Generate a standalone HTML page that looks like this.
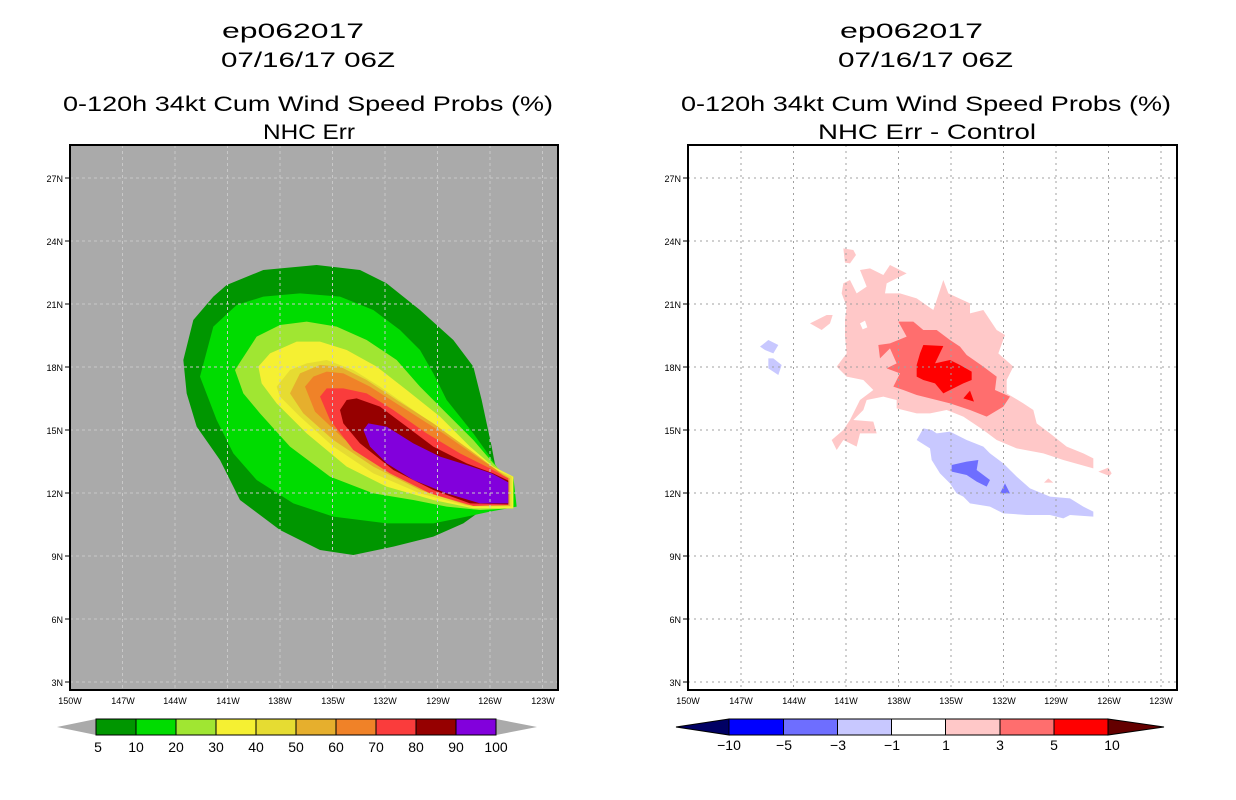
<!DOCTYPE html>
<html><head><style>
html,body{margin:0;padding:0;background:#fff;}
svg{display:block;font-family:"Liberation Sans",sans-serif;}
</style></head><body>
<svg width="1236" height="800" viewBox="0 0 1236 800" xmlns="http://www.w3.org/2000/svg">
<rect width="1236" height="800" fill="#fff"/>
<!-- Titles -->
<g font-size="21" fill="#000" lengthAdjust="spacingAndGlyphs">
<text x="222" y="38" textLength="142" lengthAdjust="spacingAndGlyphs">ep062017</text>
<text x="221" y="67" textLength="174" lengthAdjust="spacingAndGlyphs">07/16/17 06Z</text>
<text x="63" y="111" textLength="490" lengthAdjust="spacingAndGlyphs">0-120h 34kt Cum Wind Speed Probs (%)</text>
<text x="263" y="139" textLength="92" lengthAdjust="spacingAndGlyphs">NHC Err</text>
<text x="840" y="38" textLength="143" lengthAdjust="spacingAndGlyphs">ep062017</text>
<text x="838" y="67" textLength="175" lengthAdjust="spacingAndGlyphs">07/16/17 06Z</text>
<text x="681" y="111" textLength="490" lengthAdjust="spacingAndGlyphs">0-120h 34kt Cum Wind Speed Probs (%)</text>
<text x="818" y="139" textLength="218" lengthAdjust="spacingAndGlyphs">NHC Err - Control</text>
</g>

<!-- LEFT PLOT -->
<rect x="70" y="145" width="488" height="545" fill="#aaaaaa"/>
<g transform="translate(180,260) scale(0.33333)">
<polygon fill="#009600" points="140,75 250,30 410,15 540,30 620,70 720,150 820,240 880,320 905,420 935,560 950,640 920,740 850,790 760,830 640,860 520,885 420,870 300,810 180,720 120,600 50,500 20,400 10,300 40,180 100,110"/>
<polygon fill="#00dc00" points="60,350 100,200 170,135 250,110 360,100 480,110 580,150 660,210 720,270 760,340 800,420 880,520 930,590 960,635 1000,650 1010,740 930,755 860,770 760,790 620,790 460,770 340,730 230,660 160,580 110,480"/>
<polygon fill="#a0e632" points="165,330 230,230 300,195 380,185 470,200 560,240 650,300 720,380 800,460 880,540 940,610 960,630 1000,650 1000,745 900,750 800,740 700,720 580,700 450,650 330,560 240,460 190,400"/>
<polygon fill="#f5f032" points="235,320 270,280 350,245 420,245 500,270 590,320 680,390 780,470 870,560 940,620 1000,650 1000,745 880,745 760,720 620,680 500,620 380,520 290,430 245,370"/>
<polygon fill="#e6dc32" points="290,380 330,330 380,310 440,300 520,330 600,380 700,450 800,520 890,590 950,630 995,650 995,740 870,740 720,700 580,640 460,560 360,470 300,410"/>
<polygon fill="#e6af2d" points="330,400 360,340 420,315 480,320 560,360 650,420 760,490 870,570 950,630 990,655 990,738 860,735 720,690 580,620 460,540 370,460"/>
<polygon fill="#f08228" points="375,380 400,350 440,335 490,340 570,380 680,450 790,520 890,590 950,630 985,660 985,735 860,730 730,690 610,625 490,535 405,455"/>
<polygon fill="#fa3c3c" points="420,410 440,385 490,385 560,400 640,450 740,520 840,580 930,625 985,655 985,735 880,738 750,700 630,640 520,570 450,480"/>
<polygon fill="#960000" points="480,450 500,420 530,415 600,440 680,500 760,560 860,610 940,640 985,662 985,733 870,730 760,690 640,630 540,550 490,490"/>
<polygon fill="#8200dc" points="550,510 565,490 620,500 700,550 780,590 860,615 935,640 985,667 985,730 900,730 800,700 700,660 620,610 570,560"/>
</g>
<!-- left grid -->
<g stroke="#c8c8c8" stroke-width="1" stroke-dasharray="3,3">
<line x1="122.5" y1="145" x2="122.5" y2="690"/><line x1="175" y1="145" x2="175" y2="690"/><line x1="227.5" y1="145" x2="227.5" y2="690"/><line x1="280" y1="145" x2="280" y2="690"/><line x1="332.5" y1="145" x2="332.5" y2="690"/><line x1="385" y1="145" x2="385" y2="690"/><line x1="437.5" y1="145" x2="437.5" y2="690"/><line x1="490" y1="145" x2="490" y2="690"/><line x1="542.5" y1="145" x2="542.5" y2="690"/>
<line x1="70" y1="178" x2="558" y2="178"/><line x1="70" y1="241" x2="558" y2="241"/><line x1="70" y1="304" x2="558" y2="304"/><line x1="70" y1="367" x2="558" y2="367"/><line x1="70" y1="430" x2="558" y2="430"/><line x1="70" y1="493" x2="558" y2="493"/><line x1="70" y1="556" x2="558" y2="556"/><line x1="70" y1="619" x2="558" y2="619"/><line x1="70" y1="682" x2="558" y2="682"/>
</g>
<rect x="70" y="145" width="488" height="545" fill="none" stroke="#000" stroke-width="2"/>

<!-- RIGHT PLOT -->
<rect x="688" y="145" width="489" height="545" fill="#fff"/>
<g transform="translate(750,240) scale(0.33333)">
<polygon fill="#ffc8c8" points="280,130 300,120 320,160 350,140 330,90 360,85 400,105 420,75 470,100 410,130 405,160 450,160 500,175 550,210 580,120 595,160 660,190 660,220 700,210 740,270 765,285 745,340 790,380 770,420 770,460 820,490 850,510 860,550 900,580 950,620 1000,640 1030,655 1030,685 940,660 880,640 800,625 740,600 700,570 640,530 590,510 540,520 500,520 440,505 440,480 400,470 350,480 340,510 310,540 370,545 380,580 330,580 320,620 280,600 260,630 245,600 280,570 300,540 330,480 370,450 340,420 290,410 260,380 290,340 285,290 285,240 290,200 275,160"/>
<polygon fill="#fff" points="330,250 345,242 352,262 338,268"/>
<polygon fill="#ffc8c8" points="280,25 310,30 318,45 300,70 285,68"/>
<polygon fill="#ffc8c8" points="180,250 230,225 248,225 240,250 215,270"/>
<polygon fill="#ffc8c8" points="1045,695 1075,683 1085,700 1078,708"/>
<polygon fill="#ffc8c8" points="882,728 895,715 910,728"/>
<polygon fill="#ff6e6e" points="445,245 490,245 520,270 560,270 600,300 630,320 650,345 700,380 740,410 735,450 780,470 760,500 710,530 660,510 600,490 560,480 500,465 460,450 430,440 450,400 410,385 440,370 420,325 390,355 385,315 420,310 470,290"/>
<polygon fill="#ff0000" points="520,315 580,318 555,370 600,360 630,375 665,395 665,420 640,430 600,450 580,460 555,430 520,420 500,410 500,375 510,340"/>
<polygon fill="#ff0000" points="640,475 660,452 672,485"/>
<polygon fill="#c8c8ff" points="500,600 520,565 545,570 560,580 600,575 650,600 700,620 720,640 760,670 800,710 840,745 900,770 960,775 1000,800 1030,815 1030,830 960,825 940,835 900,825 830,825 760,820 720,800 660,790 640,770 620,760 600,730 570,700 545,660 540,625"/>
<polygon fill="#6e6eff" points="605,675 650,665 685,660 680,690 720,720 710,740 680,725 650,705 605,695"/>
<polygon fill="#6e6eff" points="750,760 765,730 780,760"/>
<polygon fill="#c8c8ff" points="30,320 55,300 85,315 70,340 45,330"/>
<polygon fill="#c8c8ff" points="55,355 70,355 95,375 85,405 55,385"/>
</g>
<g stroke="#a0a0a0" stroke-width="1" stroke-dasharray="2,4">
<line x1="741" y1="145" x2="741" y2="690"/><line x1="793.5" y1="145" x2="793.5" y2="690"/><line x1="846" y1="145" x2="846" y2="690"/><line x1="898.5" y1="145" x2="898.5" y2="690"/><line x1="951" y1="145" x2="951" y2="690"/><line x1="1003.5" y1="145" x2="1003.5" y2="690"/><line x1="1056" y1="145" x2="1056" y2="690"/><line x1="1108.5" y1="145" x2="1108.5" y2="690"/><line x1="1161" y1="145" x2="1161" y2="690"/>
<line x1="688" y1="178" x2="1177" y2="178"/><line x1="688" y1="241" x2="1177" y2="241"/><line x1="688" y1="304" x2="1177" y2="304"/><line x1="688" y1="367" x2="1177" y2="367"/><line x1="688" y1="430" x2="1177" y2="430"/><line x1="688" y1="493" x2="1177" y2="493"/><line x1="688" y1="556" x2="1177" y2="556"/><line x1="688" y1="619" x2="1177" y2="619"/><line x1="688" y1="682" x2="1177" y2="682"/>
</g>
<rect x="688" y="145" width="489" height="545" fill="none" stroke="#000" stroke-width="2"/>

<!-- ticks -->
<g stroke="#000" stroke-width="1">
<line x1="65" y1="178" x2="70" y2="178"/><line x1="65" y1="241" x2="70" y2="241"/><line x1="65" y1="304" x2="70" y2="304"/><line x1="65" y1="367" x2="70" y2="367"/><line x1="65" y1="430" x2="70" y2="430"/><line x1="65" y1="493" x2="70" y2="493"/><line x1="65" y1="556" x2="70" y2="556"/><line x1="65" y1="619" x2="70" y2="619"/><line x1="65" y1="682" x2="70" y2="682"/>
<line x1="683" y1="178" x2="688" y2="178"/><line x1="683" y1="241" x2="688" y2="241"/><line x1="683" y1="304" x2="688" y2="304"/><line x1="683" y1="367" x2="688" y2="367"/><line x1="683" y1="430" x2="688" y2="430"/><line x1="683" y1="493" x2="688" y2="493"/><line x1="683" y1="556" x2="688" y2="556"/><line x1="683" y1="619" x2="688" y2="619"/><line x1="683" y1="682" x2="688" y2="682"/>
</g>
<g font-size="9" fill="#000" text-anchor="end">
<text x="63" y="182">27N</text><text x="63" y="245">24N</text><text x="63" y="308">21N</text><text x="63" y="371">18N</text><text x="63" y="434">15N</text><text x="63" y="497">12N</text><text x="63" y="560">9N</text><text x="63" y="623">6N</text><text x="63" y="686">3N</text>
<text x="681" y="182">27N</text><text x="681" y="245">24N</text><text x="681" y="308">21N</text><text x="681" y="371">18N</text><text x="681" y="434">15N</text><text x="681" y="497">12N</text><text x="681" y="560">9N</text><text x="681" y="623">6N</text><text x="681" y="686">3N</text>
</g>
<g font-size="9" fill="#000" text-anchor="middle">
<text x="70" y="704">150W</text><text x="123" y="704">147W</text><text x="175" y="704">144W</text><text x="228" y="704">141W</text><text x="280" y="704">138W</text><text x="333" y="704">135W</text><text x="385" y="704">132W</text><text x="438" y="704">129W</text><text x="490" y="704">126W</text><text x="543" y="704">123W</text>
<text x="688" y="704">150W</text><text x="741" y="704">147W</text><text x="794" y="704">144W</text><text x="846" y="704">141W</text><text x="899" y="704">138W</text><text x="951" y="704">135W</text><text x="1004" y="704">132W</text><text x="1056" y="704">129W</text><text x="1109" y="704">126W</text><text x="1161" y="704">123W</text>
</g>

<!-- left colorbar -->
<g stroke="#000" stroke-width="1">
<polygon points="96,719 57,727 96,735" fill="#aaaaaa" stroke="none"/>
<polygon points="496,719 537,727 496,735" fill="#aaaaaa" stroke="none"/>
<rect x="96" y="719" width="40" height="16" fill="#009600"/>
<rect x="136" y="719" width="40" height="16" fill="#00dc00"/>
<rect x="176" y="719" width="40" height="16" fill="#a0e632"/>
<rect x="216" y="719" width="40" height="16" fill="#f5f032"/>
<rect x="256" y="719" width="40" height="16" fill="#e6dc32"/>
<rect x="296" y="719" width="40" height="16" fill="#e6af2d"/>
<rect x="336" y="719" width="40" height="16" fill="#f08228"/>
<rect x="376" y="719" width="40" height="16" fill="#fa3c3c"/>
<rect x="416" y="719" width="40" height="16" fill="#960000"/>
<rect x="456" y="719" width="40" height="16" fill="#8200dc"/>
</g>
<g font-size="14" fill="#000" text-anchor="middle">
<text x="98" y="752">5</text><text x="136" y="752">10</text><text x="176" y="752">20</text><text x="216" y="752">30</text><text x="256" y="752">40</text><text x="296" y="752">50</text><text x="336" y="752">60</text><text x="376" y="752">70</text><text x="416" y="752">80</text><text x="456" y="752">90</text><text x="496" y="752">100</text>
</g>

<!-- right colorbar -->
<g stroke="#000" stroke-width="1">
<polygon points="729,719 676,727 729,735" fill="#000064"/>
<polygon points="1108,719 1164,727 1108,735" fill="#640000"/>
<rect x="729" y="719" width="54.5" height="16" fill="#0000ff"/>
<rect x="783.5" y="719" width="54" height="16" fill="#6e6eff"/>
<rect x="837.5" y="719" width="54" height="16" fill="#c8c8ff"/>
<rect x="891.5" y="719" width="54" height="16" fill="#ffffff"/>
<rect x="945.5" y="719" width="54.5" height="16" fill="#ffc8c8"/>
<rect x="1000" y="719" width="54" height="16" fill="#ff6e6e"/>
<rect x="1054" y="719" width="54" height="16" fill="#ff0000"/>
</g>
<g font-size="14" fill="#000" text-anchor="middle">
<text x="729" y="750">−10</text><text x="784" y="750">−5</text><text x="838" y="750">−3</text><text x="892" y="750">−1</text><text x="946" y="750">1</text><text x="1000" y="750">3</text><text x="1054" y="750">5</text><text x="1112" y="750">10</text>
</g>
</svg>
</body></html>
